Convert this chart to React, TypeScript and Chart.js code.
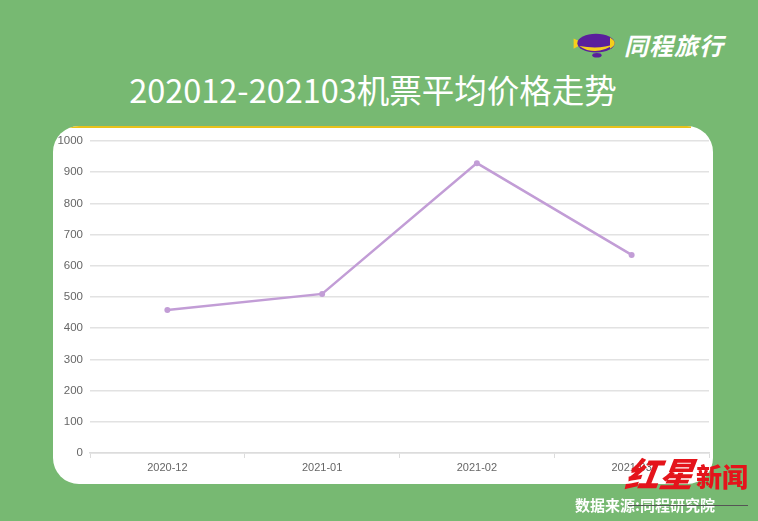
import React, { useEffect, useRef } from "react";
import { Chart, registerables } from "chart.js";

Chart.register(...registerables);

const months = ["2020-12", "2021-01", "2021-02", "2021-03"];
const avgFare = [458, 510, 929, 635];
const yTicks = [0, 100, 200, 300, 400, 500, 600, 700, 800, 900, 1000];

const GREEN = "#77b972";

function FareChart() {
  const ref = useRef<HTMLCanvasElement | null>(null);
  useEffect(() => {
    if (!ref.current) return;
    const chart = new Chart(ref.current, {
      type: "line",
      data: {
        labels: months,
        datasets: [
          {
            data: avgFare,
            borderColor: "#c29dd6",
            backgroundColor: "#c29dd6",
            borderWidth: 2.5,
            pointRadius: 3,
            pointBorderWidth: 0,
            tension: 0,
          },
        ],
      },
      options: {
        animation: false,
        responsive: false,
        maintainAspectRatio: false,
        layout: { padding: { top: 15, right: 3, left: 0, bottom: 0 } },
        plugins: { legend: { display: false }, tooltip: { enabled: false } },
        scales: {
          x: {
            offset: true,
            grid: {
              offset: true,
              drawOnChartArea: false,
              drawTicks: true,
              tickLength: 5,
              color: "#dcdcdc",
            },
            border: { display: true, color: "#dcdcdc", width: 1.5 },
            ticks: {
              color: "#666",
              font: { family: "Liberation Sans", size: 11 },
              padding: 3,
            },
            afterFit: (s: any) => {
              s.height = 31;
            },
          },
          y: {
            min: 0,
            max: 1000,
            afterBuildTicks: (s: any) => {
              s.ticks = yTicks.map((v) => ({ value: v }));
            },
            grid: { color: "#e2e2e2", lineWidth: 1.5, drawTicks: false },
            border: { display: false },
            ticks: {
              color: "#666",
              font: { family: "Liberation Sans", size: 11.5 },
              padding: 7,
              callback: (v: any) => String(v),
            },
            afterFit: (s: any) => {
              s.width = 37;
            },
          },
        },
      },
    });
    return () => chart.destroy();
  }, []);
  return <canvas ref={ref} width={660} height={358} style={{ display: "block" }} />;
}

function Blimp() {
  return (
    <svg width={50} height={28} viewBox="0 0 52 30" style={{ position: "absolute", left: 571, top: 31 }}>
      <path d="M2 8 L13 13 L2 19 Z" fill="#f6cf1c" />
      <ellipse cx={26} cy={13} rx={20} ry={10} fill="#5a1f9c" />
      <path d="M8 16 Q26 28 46 14 Q30 20 8 16 Z" fill="#f6cf1c" />
      <path d="M41 7 Q51 13 41 19 Z" fill="#f6cf1c" />
      <ellipse cx={27} cy={26} rx={5} ry={2.5} fill="#5a1f9c" />
    </svg>
  );
}

export default function App() {
  return (
    <div
      style={{
        position: "absolute",
        left: 0,
        top: 0,
        width: 758,
        height: 521,
        background: GREEN,
        overflow: "hidden",
        fontFamily: "'Noto Sans CJK SC', sans-serif",
      }}
    >
      <Blimp />
      <div
        style={{
          position: "absolute",
          left: 624,
          top: 28,
          color: "#fff",
          fontSize: 24,
          fontWeight: 700,
          fontStyle: "italic",
          letterSpacing: 1,
          lineHeight: "34px",
        }}
      >
        同程旅行
      </div>
      <div
        style={{
          position: "absolute",
          left: 0,
          width: 746,
          top: 67,
          textAlign: "center",
          color: "#fff",
          fontSize: 32.5,
          lineHeight: "44px",
        }}
      >
        202012-202103机票平均价格走势
      </div>
      <div
        style={{
          position: "absolute",
          left: 53,
          top: 126,
          width: 660,
          height: 358,
          background: "#fff",
          borderRadius: 26,
          overflow: "hidden",
        }}
      >
        <div style={{ position: "absolute", left: 14, right: 22, top: 0, height: 1.5, background: "#e8c21a" }} />
        <div style={{ position: "absolute", left: 0, top: 0 }}>
          <FareChart />
        </div>
      </div>
      <div
        style={{
          position: "absolute",
          left: 626,
          top: 450,
          color: "#e4141b",
          fontSize: 34,
          fontWeight: 900,
          fontStyle: "italic",
          lineHeight: "46px",
          transform: "skewX(-8deg)",
        }}
      >
        红星
      </div>
      <div
        style={{
          position: "absolute",
          left: 696,
          top: 458,
          color: "#e4141b",
          fontSize: 26,
          fontWeight: 900,
          lineHeight: "36px",
        }}
      >
        新闻
      </div>
      <div
        style={{
          position: "absolute",
          left: 575,
          top: 493,
          color: "#fff",
          fontSize: 15,
          fontWeight: 700,
          lineHeight: "24px",
        }}
      >
        数据来源:同程研究院
      </div>
      <div style={{ position: "absolute", left: 628, top: 505, width: 120, height: 1, background: "#555" }} />
    </div>
  );
}
